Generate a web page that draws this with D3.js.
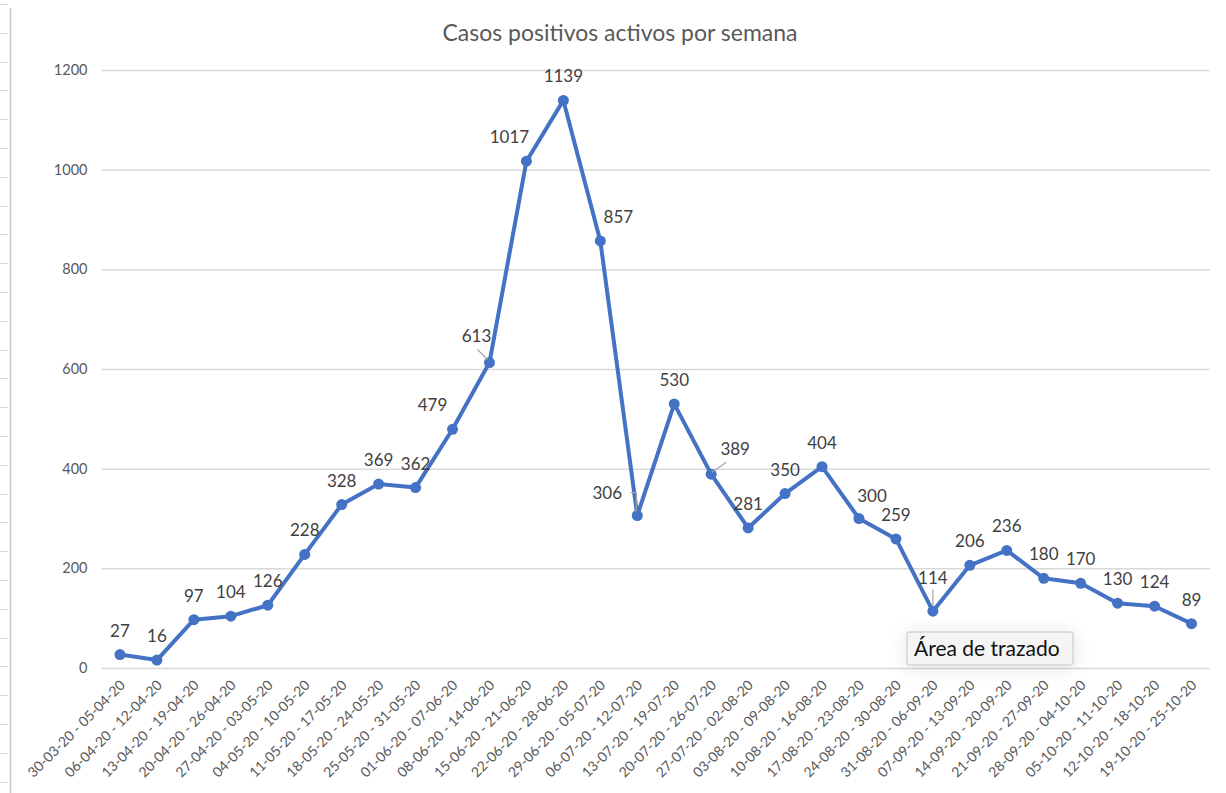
<!DOCTYPE html>
<html>
<head>
<meta charset="utf-8">
<script src="https://cdn.jsdelivr.net/npm/d3@7"></script>
<style>
  body { margin: 0; background: #fff; }
  svg { display: block; }
</style>
</head>
<body>
<div id="viz"></div>
<script>
/* Casos positivos activos por semana - line chart with data labels */

var weeks = [
  '30-03-20 - 05-04-20', '06-04-20 - 12-04-20', '13-04-20 - 19-04-20', '20-04-20 - 26-04-20',
  '27-04-20 - 03-05-20', '04-05-20 - 10-05-20', '11-05-20 - 17-05-20', '18-05-20 - 24-05-20',
  '25-05-20 - 31-05-20', '01-06-20 - 07-06-20', '08-06-20 - 14-06-20', '15-06-20 - 21-06-20',
  '22-06-20 - 28-06-20', '29-06-20 - 05-07-20', '06-07-20 - 12-07-20', '13-07-20 - 19-07-20',
  '20-07-20 - 26-07-20', '27-07-20 - 02-08-20', '03-08-20 - 09-08-20', '10-08-20 - 16-08-20',
  '17-08-20 - 23-08-20', '24-08-20 - 30-08-20', '31-08-20 - 06-09-20', '07-09-20 - 13-09-20',
  '14-09-20 - 20-09-20', '21-09-20 - 27-09-20', '28-09-20 - 04-10-20', '05-10-20 - 11-10-20',
  '12-10-20 - 18-10-20', '19-10-20 - 25-10-20'
];

var casos = [27, 16, 97, 104, 126, 228, 328, 369, 362, 479, 613, 1017, 1139, 857, 306,
             530, 389, 281, 350, 404, 300, 259, 114, 206, 236, 180, 170, 130, 124, 89];

var yTicks = [0, 200, 400, 600, 800, 1000, 1200];

var title = 'Casos positivos activos por semana';
var tooltipText = 'Área de trazado';

// labels moved by hand in the original (dx, dy from the default spot, leader line or not)
var labelNudge = {
  9:  { dx: -20, dy: 0 },
  10: { dx: -13, dy: -3, leader: true },
  11: { dx: -17, dy: 0 },
  13: { dx: 18, dy: 0 },
  14: { dx: -30, dy: 1, leader: true },
  16: { dx: 24, dy: -1, leader: true },
  20: { dx: 13, dy: 1 },
  22: { dx: 0, dy: -9, leader: true }
};

var W = 1226, H = 793,
    margin = { top: 70, right: 16, bottom: 125, left: 101.5 },
    width = 1210 - margin.left,
    height = 668 - margin.top;

var blue = '#4472c4',
    axisText = '#595959',
    font = 'Lato, "Open Sans", sans-serif';

var svg = d3.select('#viz').append('svg')
  .attr('width', W)
  .attr('height', H)
  .style('font-family', font);

var defs = svg.append('defs');
var shadow = defs.append('filter').attr('id', 'tipShadow')
  .attr('x', '-40%').attr('y', '-120%').attr('width', '180%').attr('height', '340%');
shadow.append('feDropShadow')
  .attr('dx', 0).attr('dy', 2).attr('stdDeviation', 9)
  .attr('flood-color', '#000').attr('flood-opacity', 0.12);

// spreadsheet edge on the left
svg.append('line')
  .attr('x1', 10.5).attr('x2', 10.5).attr('y1', 8).attr('y2', H)
  .attr('stroke', '#c8c8c8').attr('stroke-width', 1.5);
svg.append('g').selectAll('line')
  .data(d3.range(4, 793, 28.8))
  .enter().append('line')
    .attr('x1', 0).attr('x2', 8)
    .attr('y1', function(d) { return Math.round(d) + 0.5; })
    .attr('y2', function(d) { return Math.round(d) + 0.5; })
    .attr('stroke', '#d8d8d8');

var x = d3.scaleBand()
  .domain(weeks)
  .range([0, width]);

var y = d3.scaleLinear()
  .domain([0, 1200])
  .range([height, 0]);

var g = svg.append('g')
  .attr('transform', 'translate(' + margin.left + ',' + margin.top + ')');

// title
svg.append('text')
  .attr('x', 620)
  .attr('y', 41)
  .attr('text-anchor', 'middle')
  .attr('font-size', 23)
  .attr('fill', axisText)
  .text(title);

// grid + y labels
var yAxis = g.append('g')
  .call(d3.axisLeft(y).tickValues(yTicks).tickSize(-width).tickPadding(14).tickFormat(d3.format('d')));
yAxis.select('.domain').remove();
yAxis.selectAll('.tick line')
  .attr('stroke', '#d9d9d9')
  .attr('stroke-width', 1.5);
yAxis.selectAll('.tick text')
  .attr('fill', axisText)
  .attr('font-size', 14.5)
  .attr('font-family', font);

// x labels
var xAxis = g.append('g')
  .attr('transform', 'translate(0,' + height + ')')
  .call(d3.axisBottom(x).tickSize(0).tickPadding(0));
xAxis.select('.domain').remove();
xAxis.selectAll('.tick text')
  .attr('fill', axisText)
  .attr('font-size', 14)
  .attr('font-family', font)
  .attr('text-anchor', 'end')
  .attr('dy', 0)
  .attr('transform', 'translate(6,18) rotate(-45)');

function cx(i) { return x(weeks[i]) + x.bandwidth() / 2; }

var line = d3.line()
  .x(function(d, i) { return cx(i); })
  .y(function(d) { return y(d); });

g.append('path')
  .datum(casos)
  .attr('fill', 'none')
  .attr('stroke', blue)
  .attr('stroke-width', 4)
  .attr('stroke-linejoin', 'round')
  .attr('d', line);

g.append('g').selectAll('circle')
  .data(casos)
  .enter().append('circle')
    .attr('cx', function(d, i) { return cx(i); })
    .attr('cy', function(d) { return y(d); })
    .attr('r', 5.5)
    .attr('fill', blue);

// leader lines
var leaders = g.append('g')
  .attr('stroke', '#a6a6a6')
  .attr('stroke-width', 1.2)
  .attr('fill', 'none');
Object.keys(labelNudge).forEach(function(k) {
  var i = +k, n = labelNudge[k];
  if (!n.leader) return;
  var px = cx(i), py = y(casos[i]);
  if (i === 10) {
    leaders.append('path').attr('d', 'M' + (px - 12) + ',' + (py - 13) + 'L' + (px - 2) + ',' + (py - 3));
  } else if (i === 14) {
    leaders.append('path').attr('d', 'M' + (px - 7) + ',' + (py - 23) + 'H' + (px - 1) + 'V' + (py - 4));
  } else if (i === 16) {
    leaders.append('path').attr('d', 'M' + (px + 1) + ',' + (py - 2) + 'L' + (px + 15) + ',' + (py - 12));
  } else if (i === 22) {
    leaders.append('path').attr('d', 'M' + px + ',' + (py - 22) + 'V' + (py - 5));
  }
});

// data labels
g.append('g').selectAll('text')
  .data(casos)
  .enter().append('text')
    .attr('x', function(d, i) { return cx(i) + (labelNudge[i] ? labelNudge[i].dx : 0); })
    .attr('y', function(d, i) { return y(d) - 18 + (labelNudge[i] ? labelNudge[i].dy : 0); })
    .attr('text-anchor', 'middle')
    .attr('font-size', 17)
    .attr('fill', '#404040')
    .text(function(d) { return d; });

// hover tooltip frozen in the screenshot
var tip = svg.append('g').attr('transform', 'translate(907,632)');
tip.append('rect')
  .attr('width', 166).attr('height', 33)
  .attr('fill', '#f5f5f5')
  .attr('stroke', '#c4c4c4')
  .attr('rx', 2)
  .attr('filter', 'url(#tipShadow)');
tip.append('text')
  .attr('x', 7).attr('y', 24)
  .attr('font-size', 21)
  .attr('fill', '#111')
  .text(tooltipText);
</script>
</body>
</html>
